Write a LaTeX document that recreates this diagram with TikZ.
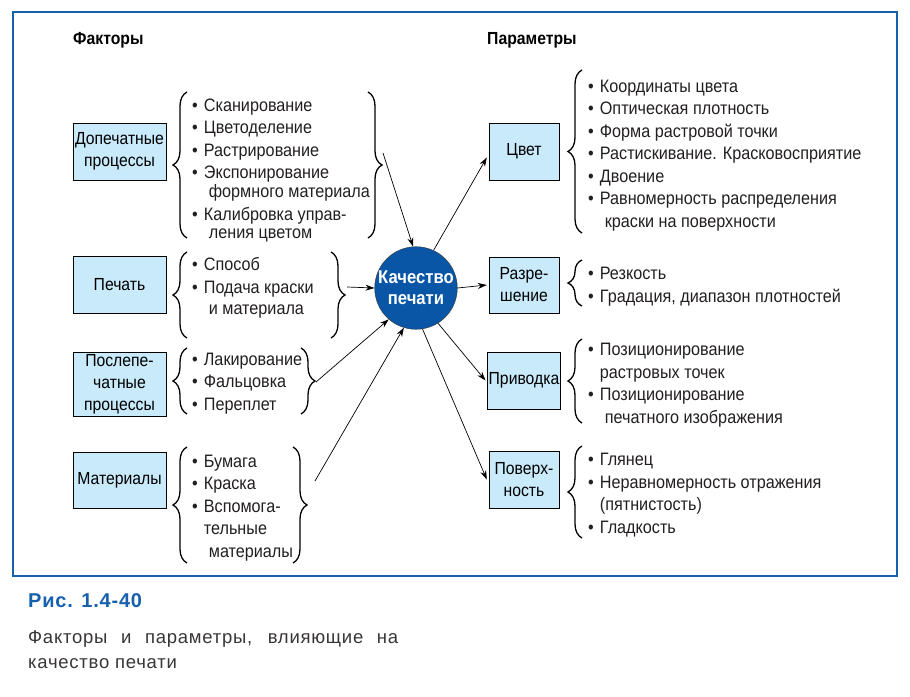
\documentclass[tikz,border=0pt]{standalone}
\usepackage{fontspec}
\setmainfont{Liberation Sans}[FakeStretch=0.9]
\newfontfamily\capfont{Liberation Sans}[LetterSpace=4]
\usetikzlibrary{arrows.meta,decorations.pathreplacing}
\definecolor{ramka}{RGB}{22,96,172}
\definecolor{korob}{RGB}{200,234,250}
\definecolor{shar}{RGB}{10,86,166}
\definecolor{tekst}{RGB}{35,31,32}
\newcommand{\bul}{\textbullet\hspace{6pt}}
\newcommand{\dal}{\hphantom{\bul}}
\tikzset{
  fakt/.style={draw, fill=korob, minimum width=93pt, align=center, inner sep=1pt,
    font=\fontsize{17.5}{22}\selectfont},
  param/.style={fakt, minimum width=70pt},
  spis/.style={anchor=base west, align=left, inner sep=0pt, text=tekst,
    font=\fontsize{18}{22.5}\selectfont},
  zag/.style={anchor=west, inner sep=0pt, font=\bfseries\fontsize{17.5}{20}\selectfont},
  skobka/.style={decorate, decoration={brace, amplitude=14pt}, line width=1.3pt},
  strelka/.style={-{Stealth[length=9pt,width=6pt]}, line width=0.7pt}
}
\begin{document}
\begin{tikzpicture}[x=1pt, y=-1pt]
  \useasboundingbox (0,0) rectangle (910,696);
  \draw[ramka, line width=1.5pt] (13,12) rectangle (897,576);
  % zagolovki
  \node[zag] (hf) at (73,40) {Факторы};
  \node[zag] (hp) at (487,40) {Параметры};
  % faktory
  \node[fakt, minimum height=57pt] (dop) at (119.5,151.5) {Допечатные\\процессы};
  \node[fakt, minimum height=57pt] (pech) at (119.5,284.5) {Печать};
  \node[fakt, minimum height=64pt] (posl) at (119.5,384) {Послепе-\\чатные\\процессы};
  \node[fakt, minimum height=56pt] (mat) at (119.5,480) {Материалы};
  % base = poslednyaya stroka
  \node[spis] (s1) at (192,238) {\bul Сканирование\\\bul Цветоделение\\\bul Растрирование\\\bul Экспонирование\\[-3.5pt]\dal\hspace*{5pt}формного материала\\\bul Калибровка управ-\\[-4.5pt]\dal\hspace*{5pt}ления цветом};
  \node[spis] (s2) at (192,314) {\bul Способ\\\bul Подача краски\\[-1.5pt]\dal\hspace*{5pt}и материала};
  \node[spis] (s3) at (192,410) {\bul Лакирование\\\bul Фальцовка\\\bul Переплет};
  \node[spis] (s4) at (192,557) {\bul Бумага\\\bul Краска\\\bul Вспомога-\\\dal тельные\\\dal\hspace*{5pt}материалы};
  % skobki sleva
  \draw[skobka] (187,238) -- (187,92);
  \draw[skobka] (187,338) -- (187,252);
  \draw[skobka] (187,414) -- (187,348);
  \draw[skobka] (187,563) -- (187,447);
  \draw[skobka] (368,92) -- (368,238);
  \draw[skobka] (331,252) -- (331,338);
  \draw[skobka] (301,348) -- (301,414);
  \draw[skobka] (293,447) -- (293,563);
  % kachestvo
  \node[circle, fill=shar, draw=black!80, minimum size=80pt, inner sep=0pt, text=white,
    align=center, font=\bfseries\fontsize{18.5}{21}\selectfont] (kach) at (416,288) {Качество\\печати};
  \coordinate (f1) at (383,153);
  \coordinate (f2) at (347,287);
  \coordinate (f3) at (316,382);
  \coordinate (f4) at (315,481);
  \draw[strelka] (f1) -- (kach.94);
  \draw[strelka] (f2) -- (kach.180);
  \draw[strelka] (f3) -- (kach.229);
  \draw[strelka] (f4) -- (kach.253);
  % parametry
  \node[param, minimum height=57pt] (cvet) at (524,151.5) {Цвет};
  \node[param, minimum height=56pt] (razr) at (524,285) {Разре-\\шение};
  \node[param, minimum height=57pt] (priv) at (524,380.5) {Приводка};
  \node[param, minimum height=57pt] (pov) at (524,479.5) {Поверх-\\ность};
  \node[spis] (p1) at (588,227) {\bul Координаты цвета\\\bul Оптическая плотность\\\bul Форма растровой точки\\\bul Растискивание. Красковосприятие\\\bul Двоение\\\bul Равномерность распределения\\\dal\hspace*{5pt}краски на поверхности};
  \node[spis] (p2) at (588,302) {\bul Резкость\\\bul Градация, диапазон плотностей};
  \node[spis] (p3) at (588,423) {\bul Позиционирование\\\dal растровых точек\\\bul Позиционирование\\\dal\hspace*{5pt}печатного изображения};
  \node[spis] (p4) at (588,533) {\bul Глянец\\\bul Неравномерность отражения\\\dal(пятнистость)\\\bul Гладкость};
  \draw[skobka] (582,233) -- (582,70);
  \draw[skobka] (582,306) -- (582,260);
  \draw[skobka] (582,423) -- (582,339);
  \draw[skobka] (582,538) -- (582,446);
  \draw[strelka] (kach.65) -- ([xshift=-2pt,yshift=-6pt]cvet.west);
  \draw[strelka] (kach.0) -- ([xshift=-2pt]razr.west);
  \draw[strelka] (kach.-58) -- ([xshift=-2pt]priv.west);
  \draw[strelka] (kach.-81) -- ([xshift=-2pt]pov.west);
  % podpis
  \node[anchor=west, inner sep=0pt, text=ramka, font=\capfont\bfseries\fontsize{20}{24}\selectfont] (ris) at (28,601) {Рис. 1.4-40};
  \node[anchor=base west, inner sep=0pt, align=left, text=tekst!90,
    font=\capfont\fontsize{18.5}{25}\selectfont] (podp) at (28,668)
    {\makebox[370pt][s]{Факторы и параметры, влияющие на}\\качество печати};
\end{tikzpicture}
\end{document}
